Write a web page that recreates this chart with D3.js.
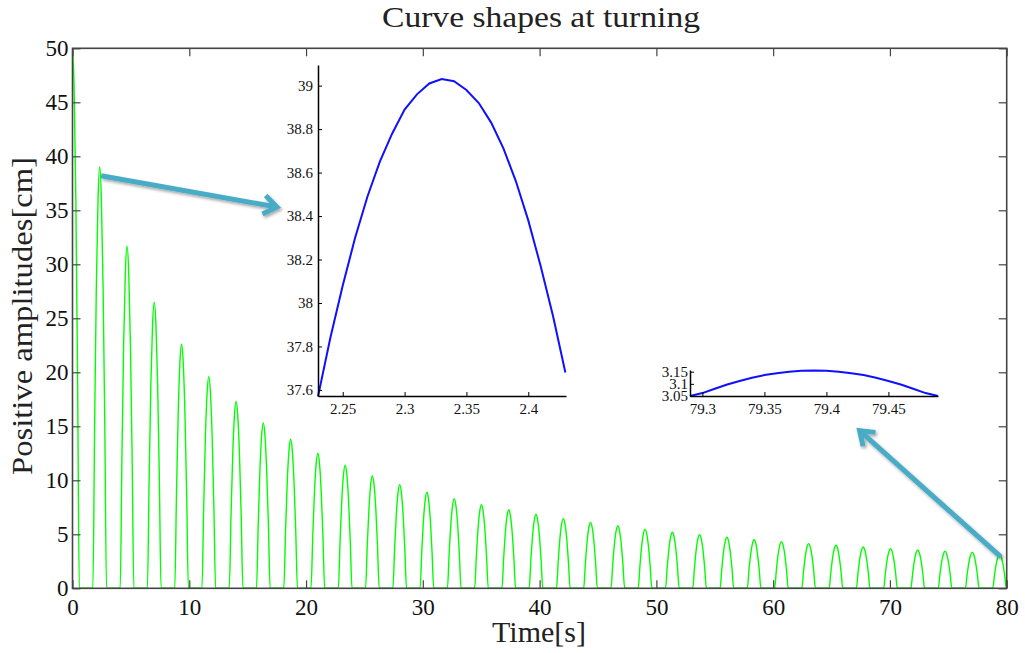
<!DOCTYPE html>
<html><head><meta charset="utf-8">
<script src="https://cdn.jsdelivr.net/npm/d3@7"></script>
<style>body{margin:0;background:#fff;} svg{display:block;font-family:"Liberation Serif","Times New Roman",serif;}</style>
</head><body><svg id="c" width="1025" height="653"></svg>
<script>
// ---------------- data ----------------
const peakTimes = [0, 2.33, 4.67, 7.00, 9.34, 11.67, 14.01, 16.34, 18.68, 21.01, 23.35, 25.68, 28.02, 30.35, 32.69, 35.02, 37.36, 39.69, 42.03, 44.36, 46.70, 49.03, 51.37, 53.70, 56.04, 58.37, 60.71, 63.04, 65.38, 67.71, 70.05, 72.38, 74.72, 77.05, 79.39];
const peakValues = [50, 39.03, 31.7, 26.5, 22.6, 19.6, 17.3, 15.3, 13.8, 12.5, 11.4, 10.4, 9.6, 8.9, 8.3, 7.75, 7.28, 6.85, 6.45, 6.1, 5.77, 5.46, 5.19, 4.97, 4.72, 4.5, 4.32, 4.14, 3.98, 3.83, 3.67, 3.55, 3.43, 3.33, 3.15];
const archOffsets = [-1, -0.75, -0.5, -0.25, 0, 0.25, 0.5, 0.75, 1];
const archShape   = [0, 0.38, 0.71, 0.92, 1, 0.92, 0.71, 0.38, 0];
const archHalfWidth = 0.584;
const mainXTicks = [0, 10, 20, 30, 40, 50, 60, 70, 80];
const mainYTicks = [0, 5, 10, 15, 20, 25, 30, 35, 40, 45, 50];

const inset1Times  = [2.23, 2.24, 2.25, 2.26, 2.27, 2.28, 2.29, 2.30, 2.31, 2.32, 2.33, 2.34, 2.35, 2.36, 2.37, 2.38, 2.39, 2.40, 2.41, 2.42, 2.43];
const inset1Values = [37.57, 37.84, 38.08, 38.30, 38.49, 38.65, 38.78, 38.89, 38.96, 39.01, 39.03, 39.02, 38.98, 38.92, 38.83, 38.71, 38.56, 38.38, 38.17, 37.94, 37.68];
const inset1XTicks = [2.25, 2.3, 2.35, 2.4];
const inset1YTicks = [37.6, 37.8, 38, 38.2, 38.4, 38.6, 38.8, 39];

const inset2Times  = [79.29, 79.30, 79.31, 79.32, 79.33, 79.34, 79.35, 79.36, 79.37, 79.38, 79.39, 79.40, 79.41, 79.42, 79.43, 79.44, 79.45, 79.46, 79.47, 79.48, 79.49];
const inset2Values = [3.05, 3.062, 3.08, 3.097, 3.112, 3.125, 3.136, 3.144, 3.150, 3.154, 3.155, 3.154, 3.150, 3.144, 3.136, 3.125, 3.112, 3.097, 3.08, 3.062, 3.05];
const inset2XTicks = [79.3, 79.35, 79.4, 79.45];
const inset2YTicks = [3.05, 3.1, 3.15];

const titleText = "Curve shapes at turning";
const xLabelText = "Time[s]";
const yLabelText = "Positive amplitudes[cm]";

// ---------------- layout ----------------
const svg = d3.select("#c");
const M = {left: 72.5, right: 1006.7, top: 48.3, bottom: 588.3};
const x = d3.scaleLinear().domain([0, 80]).range([M.left, M.right]);
const y = d3.scaleLinear().domain([0, 50]).range([M.bottom, M.top]);

// green series
const pts = [];
peakTimes.forEach((t, k) => {
  archOffsets.forEach((o, j) => {
    if (k === 0 && o < 0) return;
    pts.push([t + o * archHalfWidth, peakValues[k] * archShape[j]]);
  });
});
pts.push([80, 0]);
svg.append("defs").append("clipPath").attr("id", "mclip")
  .append("rect").attr("x", M.left).attr("y", M.top - 2).attr("width", M.right - M.left).attr("height", M.bottom - M.top + 2);
svg.append("path").datum(pts)
  .attr("clip-path", "url(#mclip)")
  .attr("fill", "none").attr("stroke", "#00ff00").attr("stroke-width", 1.4)
  .attr("d", d3.line().x(d => x(d[0])).y(d => y(d[1])).curve(d3.curveMonotoneX));

// main axes
const axStroke = "#444";
function styleAxis(g) {
  g.select(".domain").remove();
  g.selectAll(".tick line").attr("stroke", axStroke).attr("stroke-width", 1.2);
  g.selectAll("text").attr("fill", "#111").style("font-size", "23px").style("font-family", "Liberation Serif, serif");
}
svg.append("g").attr("transform", `translate(0,${M.bottom})`)
  .call(d3.axisBottom(x).tickValues(mainXTicks).tickSizeInner(-8).tickSizeOuter(0).tickPadding(10).tickFormat(d3.format("d")))
  .call(styleAxis);
svg.append("g").attr("transform", `translate(0,${M.top})`)
  .call(d3.axisTop(x).tickValues(mainXTicks).tickSizeInner(-8).tickSizeOuter(0).tickFormat(""))
  .call(styleAxis);
svg.append("g").attr("transform", `translate(${M.left},0)`)
  .call(d3.axisLeft(y).tickValues(mainYTicks).tickSizeInner(-8).tickSizeOuter(0).tickPadding(4).tickFormat(d3.format("d")))
  .call(styleAxis);
svg.append("g").attr("transform", `translate(${M.right},0)`)
  .call(d3.axisRight(y).tickValues(mainYTicks).tickSizeInner(-8).tickSizeOuter(0).tickFormat(""))
  .call(styleAxis);
svg.append("rect").attr("x", M.left).attr("y", M.top).attr("width", M.right - M.left).attr("height", M.bottom - M.top)
  .attr("fill", "none").attr("stroke", axStroke).attr("stroke-width", 1.6);

// labels
svg.append("text").attr("x", 541).attr("y", 27).attr("text-anchor", "middle")
  .attr("textLength", 318).attr("lengthAdjust", "spacingAndGlyphs")
  .style("font-size", "29px").attr("fill", "#222").text(titleText);
svg.append("text").attr("x", 539).attr("y", 641.5).attr("text-anchor", "middle")
  .attr("textLength", 94).attr("lengthAdjust", "spacingAndGlyphs")
  .style("font-size", "30px").attr("fill", "#222").text(xLabelText);
svg.append("text").attr("transform", "translate(32,316) rotate(-90)").attr("text-anchor", "middle")
  .attr("textLength", 318).attr("lengthAdjust", "spacingAndGlyphs")
  .style("font-size", "30px").attr("fill", "#222").text(yLabelText);

// insets
function inset(cfg) {
  const ix = d3.scaleLinear().domain(cfg.xDomain).range([cfg.left, cfg.right]);
  const iy = d3.scaleLinear().domain(cfg.yDomain).range([cfg.bottom, cfg.top]);
  const g = svg.append("g");
  g.append("rect").attr("x", cfg.left).attr("y", cfg.top).attr("width", cfg.right - cfg.left).attr("height", cfg.bottom - cfg.top).attr("fill", "#fff");
  g.append("path").datum(cfg.times.map((t, i) => [t, cfg.values[i]]))
    .attr("fill", "none").attr("stroke", "#1010ff").attr("stroke-width", 2)
    .attr("d", d3.line().x(d => ix(d[0])).y(d => iy(d[1])));
  const st = a => {
    a.select(".domain").attr("stroke", "#000").attr("stroke-width", 1.5);
    a.selectAll(".tick line").attr("stroke", "#000").attr("stroke-width", 1);
    a.selectAll("text").attr("fill", "#111").style("font-size", cfg.fs + "px").style("font-family", "Liberation Serif, serif");
  };
  g.append("g").attr("transform", `translate(0,${cfg.bottom})`)
    .call(d3.axisBottom(ix).tickValues(cfg.xTicks).tickSizeInner(-4).tickSizeOuter(0).tickPadding(cfg.xPad).tickFormat(d => String(d)))
    .call(st);
  g.append("g").attr("transform", `translate(${cfg.left},0)`)
    .call(d3.axisLeft(iy).tickValues(cfg.yTicks).tickSizeInner(-4).tickSizeOuter(0).tickPadding(cfg.yPad).tickFormat(d => String(d)))
    .call(st);
}
inset({left: 318, right: 566, top: 65, bottom: 396, xDomain: [2.23, 2.4305], yDomain: [37.572, 39.095],
  times: inset1Times, values: inset1Values, xTicks: inset1XTicks, yTicks: inset1YTicks, fs: 15, xPad: 7, yPad: 5});
inset({left: 690, right: 938, top: 370, bottom: 396, xDomain: [79.29, 79.49], yDomain: [3.05, 3.157],
  times: inset2Times, values: inset2Values, xTicks: inset2XTicks, yTicks: inset2YTicks, fs: 15, xPad: 7, yPad: 2});

// arrows (annotation, in data coords of main chart)
const defs = svg.select("defs");
const f = defs.append("filter").attr("id", "sh").attr("x", "-20%").attr("y", "-20%").attr("width", "140%").attr("height", "140%");
f.append("feDropShadow").attr("dx", 1.5).attr("dy", 2).attr("stdDeviation", 1.5).attr("flood-color", "#000").attr("flood-opacity", 0.35);
const arrows = [
  {from: [2.45, 38.2], to: [17.5, 35.3]},
  {from: [79.5, 2.9], to: [67.4, 14.6]}
];
arrows.forEach(a => {
  const x0 = x(a.from[0]), y0 = y(a.from[1]), x1 = x(a.to[0]), y1 = y(a.to[1]);
  const ang = Math.atan2(y1 - y0, x1 - x0);
  const L = 16, sp = 0.62;
  const ax1 = x1 - L * Math.cos(ang - sp), ay1 = y1 - L * Math.sin(ang - sp);
  const ax2 = x1 - L * Math.cos(ang + sp), ay2 = y1 - L * Math.sin(ang + sp);
  svg.append("path")
    .attr("d", `M${x0},${y0}L${x1},${y1}M${ax1},${ay1}L${x1},${y1}L${ax2},${ay2}`)
    .attr("fill", "none").attr("stroke", "#4aacc6").attr("stroke-width", 5)
    .attr("stroke-linejoin", "miter").attr("stroke-linecap", "butt")
    .attr("filter", "url(#sh)");
});
</script></body></html>
